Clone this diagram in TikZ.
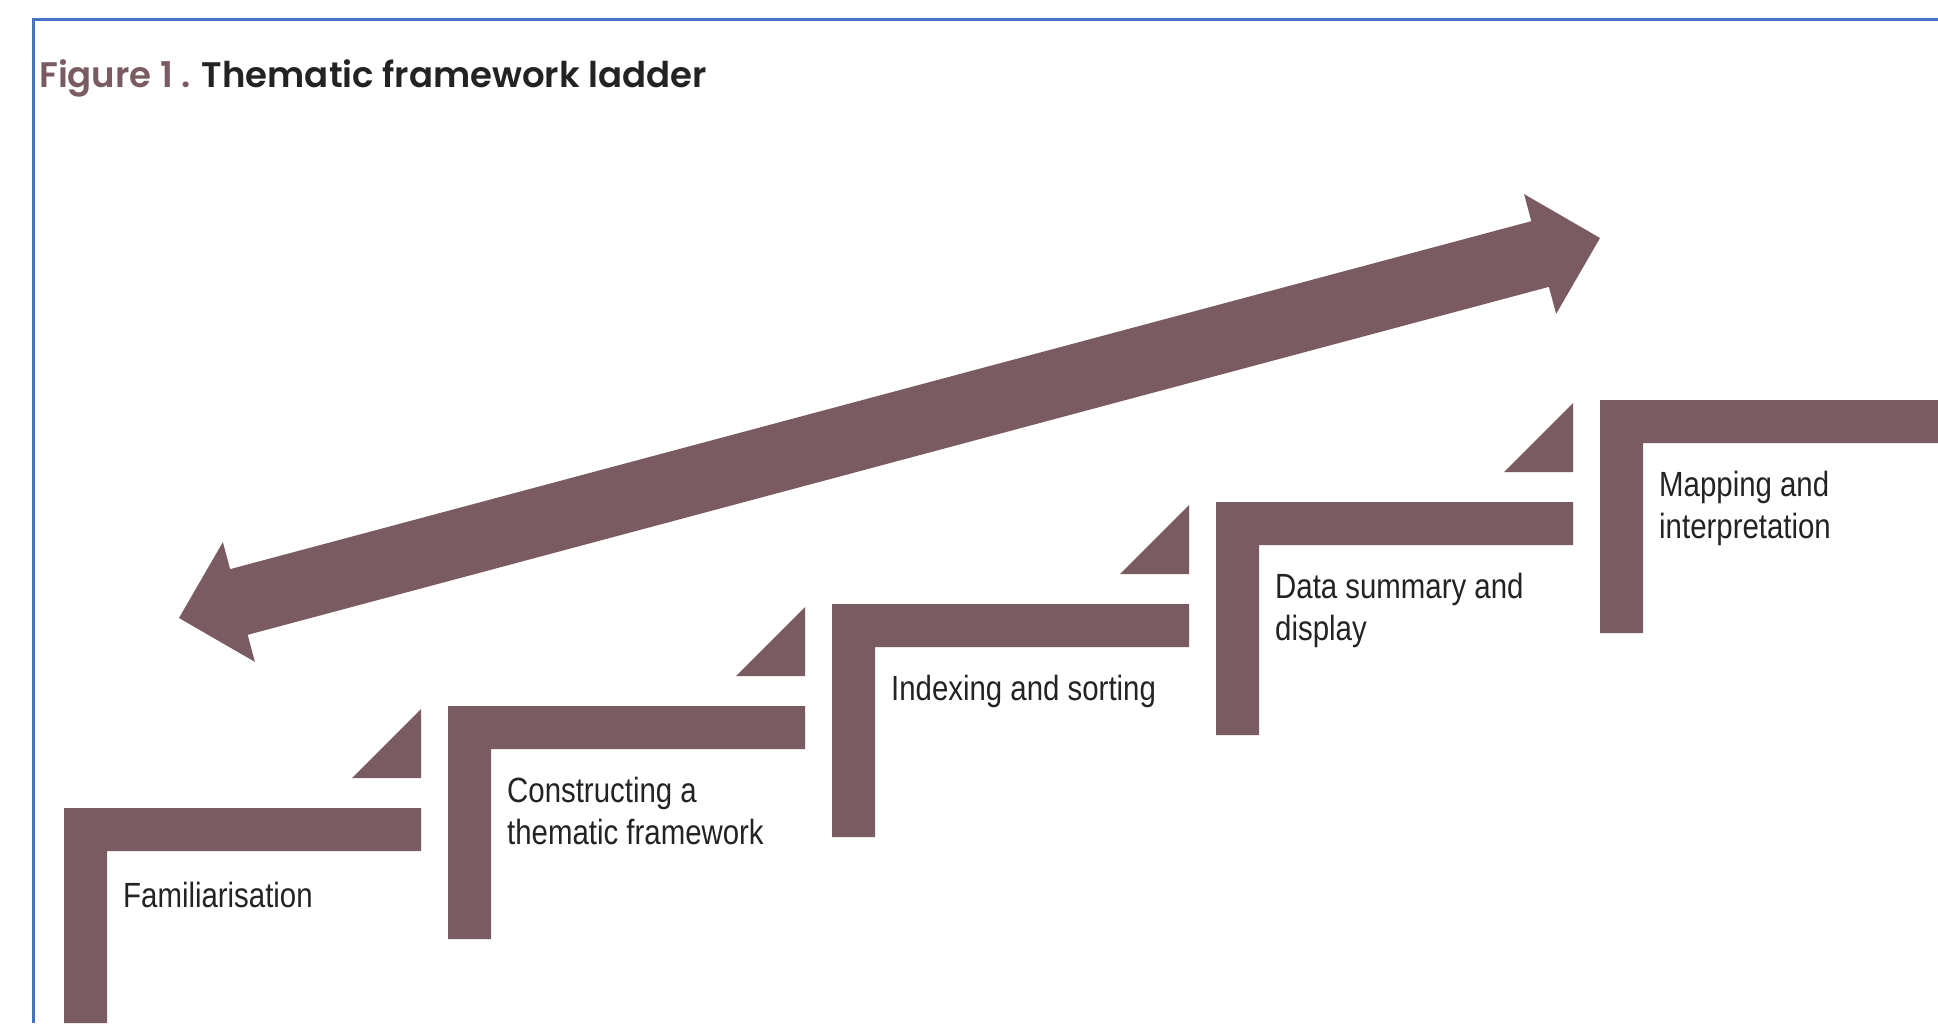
\documentclass[tikz,border=0pt]{standalone}
\usepackage{fontspec}
\usepackage{xcolor}
\usetikzlibrary{calc,positioning}
\newfontfamily\titlefont{Poppins SemiBold}
\newfontfamily\stepfont{Liberation Sans}[FakeStretch=0.84]
\definecolor{ladder}{RGB}{122,91,97}
\definecolor{frameblue}{RGB}{68,114,196}
\definecolor{steptext}{RGB}{35,35,35}
\tikzset{
  rung/.style={fill=ladder},
  steplabel/.style={anchor=north west,inner sep=0pt,align=left,text=steptext,
    font=\stepfont\fontsize{35}{41.5}\selectfont},
}

\begin{document}
\begin{tikzpicture}[x=1pt,y=-1pt]
\useasboundingbox (0,0) rectangle (1938,1023);
% frame and title
\draw[frameblue,line width=3pt] (33,1023) -- (33,19) -- (1938,19);
\node[anchor=base west,inner sep=0pt,text=steptext,
  font=\titlefont\fontsize{35.5}{40}\selectfont] (title) at (39,87)
  {\textcolor{ladder}{Figure 1 .} Thematic framework ladder};

% the two-way arrow
\coordinate (arrL) at (179,618);
\coordinate (arrR) at (1600,238);
\coordinate (headL) at ($(arrL)!62pt!(arrR)$);
\coordinate (headR) at ($(arrR)!62pt!(arrL)$);
\fill[rung] (arrL) -- ($(headL)!62pt!90:(arrR)$) -- ($(headL)!34pt!90:(arrR)$)
  -- ($(headR)!34pt!-90:(arrL)$) -- ($(headR)!62pt!-90:(arrL)$) -- (arrR)
  -- ($(headR)!62pt!90:(arrL)$) -- ($(headR)!34pt!90:(arrL)$)
  -- ($(headL)!34pt!-90:(arrR)$) -- ($(headL)!62pt!-90:(arrR)$) -- cycle;

% steps
\fill[rung] (64,808) -- ++(357,0) -- ++(0,43) -- ++(-314,0) -- ++(0,172) -- ++(-43,0) -- cycle;
\fill[rung] (421,778) -- ++(0,-69) -- ++(-69,69) -- cycle;
\node[steplabel] (familiar) at (123,882) {Familiarisation};

\fill[rung] (448,706) -- ++(357,0) -- ++(0,43) -- ++(-314,0) -- ++(0,190) -- ++(-43,0) -- cycle;
\fill[rung] (805,676) -- ++(0,-69) -- ++(-69,69) -- cycle;
\node[steplabel] (framework) at (507,777) {Constructing a\\thematic framework};

\fill[rung] (832,604) -- ++(357,0) -- ++(0,43) -- ++(-314,0) -- ++(0,190) -- ++(-43,0) -- cycle;
\fill[rung] (1189,574) -- ++(0,-69) -- ++(-69,69) -- cycle;
\node[steplabel] (indexing) at (891,675) {Indexing and sorting};

\fill[rung] (1216,502) -- ++(357,0) -- ++(0,43) -- ++(-314,0) -- ++(0,190) -- ++(-43,0) -- cycle;
\fill[rung] (1573,472) -- ++(0,-69) -- ++(-69,69) -- cycle;
\node[steplabel] (summary) at (1275,573) {Data summary and\\display};

\fill[rung] (1600,400) -- ++(338,0) -- ++(0,43) -- ++(-295,0) -- ++(0,190) -- ++(-43,0) -- cycle;
\node[steplabel] (mapping) at (1659,471) {Mapping and\\interpretation};
\end{tikzpicture}
\end{document}
